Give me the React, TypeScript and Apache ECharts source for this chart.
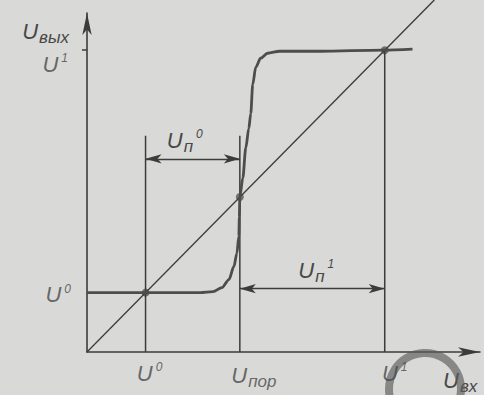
import { useEffect, useRef } from "react";
import * as echarts from "echarts";

// Characteristic levels (input and output share the same units)
const U0 = 0.59; // logical zero level
const UPOR = 1.54; // switching threshold
const U1 = 3.0; // logical one level

const X_MAX = 3.96;
const Y_MAX = 3.37;
const DIAGONAL_END = 3.5;
const GUIDE_TOP = 2.15;
const NOISE0_LEVEL = 1.92; // height of the U_п^0 dimension line
const NOISE1_LEVEL = 0.63; // height of the U_п^1 dimension line

// Transfer characteristic U_вых(U_вх)
const curveX = [0, 0.6, 1.14, 1.27, 1.36, 1.43, 1.48, 1.51, 1.53, 1.535, 1.54, 1.57, 1.6, 1.63, 1.65, 1.67, 1.7, 1.75, 1.82, 1.94, 2.35, 2.98, 3.28];
const curveY = [0.59, 0.59, 0.59, 0.6, 0.64, 0.72, 0.85, 0.98, 1.15, 1.34, 1.54, 1.73, 2.03, 2.22, 2.37, 2.66, 2.83, 2.92, 2.97, 2.99, 2.99, 3.0, 3.01];

// Tick labels
const xTickValues = [U0, UPOR, U1];
const xTickLabels = ["{u|U}{sup|0}", "{u|U}{sub|пор}", "{u|U}{sup|1}"];
const yTickValues = [U0, U1];
const yTickLabels = ["{u|U}{sup|0}", "{u|U}{sup|1}"];
const noiseLabels = ["{u|U}{sub|п}{sup|0}", "{u|U}{sub|п}{sup|1}"];

const FONT = '"Liberation Sans", "DejaVu Sans", sans-serif';
const LINE = "#3c3c3c";
const CURVE = "#4d4d4d";
const TEXT = "#484848";
const BG = "#d9d9d7";

const rich = {
  u: { fontSize: 22, fontStyle: "italic", fontFamily: FONT, color: TEXT },
  sub: { fontSize: 17, fontStyle: "italic", fontFamily: FONT, color: TEXT, padding: [12, 0, 0, 1] },
  sup: { fontSize: 12, fontStyle: "italic", fontFamily: FONT, color: TEXT, padding: [0, 0, 12, 3] },
};

const xLabelOffsets = [[4, 4], [14, 4], [10, 4]];
const yLabelOffsets = [[-11, 2], [-14, 14]];
const noiseLabelOffsets = [[-8, 0], [4, 0]];

export default function App() {
  const ref = useRef<HTMLDivElement>(null);

  useEffect(() => {
    if (!ref.current) return;
    const chart = echarts.init(ref.current, null, { renderer: "svg" });

    const curve = curveX.map((x, i) => [x, curveY[i]]);

    const guide = (x: number, top: number) => ({
      type: "line",
      data: [[x, 0], [x, top]],
      symbol: "none",
      silent: true,
      lineStyle: { color: LINE, width: 1.5 },
    });

    const tickLabelItems = [
      ...xTickValues.map((v, i) => ({
        value: [v, 0],
        label: {
          show: true,
          position: "bottom",
          formatter: xTickLabels[i],
          offset: xLabelOffsets[i],
          rich,
        },
      })),
      ...yTickValues.map((v, i) => ({
        value: [0, v],
        label: {
          show: true,
          position: "left",
          formatter: yTickLabels[i],
          offset: yLabelOffsets[i],
          rich,
        },
      })),
    ];

    chart.setOption({
      animation: false,
      backgroundColor: BG,
      grid: { left: 87, right: 4, top: 13, bottom: 38 },
      xAxis: {
        type: "value",
        min: 0,
        max: X_MAX,
        splitLine: { show: false },
        axisTick: { show: false },
        axisLabel: { show: false },
        axisLine: {
          show: true,
          onZero: false,
          symbol: ["none", "arrow"],
          symbolSize: [7, 22],
          lineStyle: { color: LINE, width: 1.6 },
        },
        name: "{u|U}{sub|вх}",
        nameLocation: "end",
        nameGap: -37,
        nameTextStyle: { align: "left", verticalAlign: "top", padding: [14, 0, 0, 0], rich },
      },
      yAxis: {
        type: "value",
        min: 0,
        max: Y_MAX,
        splitLine: { show: false },
        axisLabel: { show: false },
        axisTick: {
          show: true,
          customValues: [U1],
          length: 5,
          lineStyle: { color: LINE, width: 1.5 },
        },
        axisLine: {
          show: true,
          onZero: false,
          symbol: ["none", "arrow"],
          symbolSize: [7, 22],
          lineStyle: { color: LINE, width: 1.6 },
        },
        name: "{u|U}{sub|вых}",
        nameLocation: "end",
        nameGap: -4,
        nameTextStyle: { align: "right", verticalAlign: "top", padding: [0, 18, 0, 0], rich },
      },
      graphic: [
        {
          type: "circle",
          z: 1,
          silent: true,
          shape: { cx: 425, cy: 389, r: 36 },
          style: { fill: "none", stroke: "rgba(90,90,90,0.65)", lineWidth: 8 },
        },
      ],
      series: [
        {
          type: "line",
          data: [[0, 0], [DIAGONAL_END, DIAGONAL_END]],
          symbol: "none",
          clip: false,
          silent: true,
          lineStyle: { color: LINE, width: 1.3 },
        },
        guide(U0, GUIDE_TOP),
        guide(UPOR, GUIDE_TOP),
        {
          ...guide(U1, U1),
          markLine: {
            silent: true,
            symbol: ["arrow", "arrow"],
            symbolSize: [7, 16],
            lineStyle: { type: "solid", color: LINE, width: 1.4 },
            label: { show: true, position: "middle", distance: 4, rich },
            data: [
              [
                { coord: [U0, NOISE0_LEVEL], label: { formatter: noiseLabels[0], offset: noiseLabelOffsets[0] } },
                { coord: [UPOR, NOISE0_LEVEL] },
              ],
              [
                { coord: [UPOR, NOISE1_LEVEL], label: { formatter: noiseLabels[1], offset: noiseLabelOffsets[1] } },
                { coord: [U1, NOISE1_LEVEL] },
              ],
            ],
          },
        },
        {
          type: "line",
          data: curve,
          smooth: 0.3,
          smoothMonotone: "x",
          symbol: "none",
          silent: true,
          lineStyle: { color: CURVE, width: 2.8 },
        },
        {
          type: "scatter",
          data: [[U0, U0], [UPOR, UPOR], [U1, U1]],
          symbolSize: 8,
          silent: true,
          itemStyle: { color: "#555555" },
        },
        {
          type: "scatter",
          data: tickLabelItems,
          symbolSize: 0,
          silent: true,
          z: 3,
        },
      ],
    });

    return () => chart.dispose();
  }, []);

  return (
    <div
      ref={ref}
      style={{ position: "fixed", left: 0, top: 0, width: 484, height: 395, background: BG }}
    />
  );
}
